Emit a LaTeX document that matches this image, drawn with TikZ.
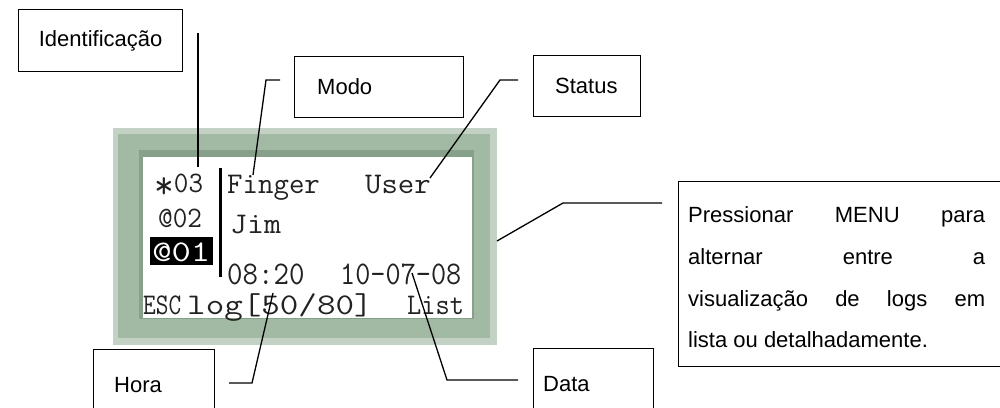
\documentclass[tikz,border=0pt]{standalone}
\usepackage{fontspec}
\setmainfont{Liberation Sans}
\definecolor{lcdedge}{HTML}{C4D2C5}
\definecolor{lcdgreen}{HTML}{A2B9A4}
\definecolor{lcddark}{HTML}{86A08A}
\definecolor{lcdtext}{HTML}{222222}
\newcommand{\lblfont}{\fontsize{22}{26}\selectfont}
\newcommand{\lcdf}{\ttfamily\fontsize{30}{30}\selectfont}
\newcommand{\lcdsmall}{\ttfamily\fontsize{27}{27}\selectfont}
\newcommand{\bigast}{\raisebox{-0.22em}[0pt][0pt]{\scalebox{1.35}{*}}}
\begin{document}
\begin{tikzpicture}[x=1pt,y=-1pt,
  labelbox/.style={draw=black,line width=1.2pt,fill=white,inner sep=0pt,anchor=north west},
  lbl/.style={font=\lblfont,inner sep=0pt},
  leader/.style={draw=black,line width=1.3pt},
  lcd/.style={font=\lcdf,inner sep=0pt,anchor=base west,text=lcdtext,transform shape}]
\useasboundingbox (0,0) rectangle (1000,407);
\clip (0,0) rectangle (1000,407);

% LCD frame
\fill[lcdedge] (113,128) rectangle (497,345);
\fill[lcdgreen] (118,134) rectangle (490,338);
\fill[lcddark] (139,150) rectangle (474,319);
\fill[white] (143,157) rectangle (472,318);

% LCD content
\node[lcd,font=\lcdsmall,xscale=1.05,yscale=1.1] (n03) at (154,192) {\bigast03};
\node[lcd] (finger) at (227,193) {Finger};
\node[lcd,xscale=1.06] (user) at (365,193) {User};
\node[lcd,font=\lcdsmall,xscale=1.05,yscale=1.1] (n02) at (158,227) {@02};
\node[lcd,xscale=1.1] (jim) at (230,233) {Jim};
\fill[black] (150,237) rectangle (213,265);
\node[lcd,xscale=1.25,text=white] (n01) at (152,261) {@01};
\fill[black] (218.5,168) rectangle (221.5,277);
\node[lcd,yscale=1.1] (hour) at (227,284) {08:20};
\node[lcd,xscale=0.98,yscale=1.1] (date) at (340,284) {10-07-08};
\node[lcd,xscale=0.82] (esc) at (143,314) {ESC};
\node[lcd,xscale=1.2] (log) at (187,314) {log[50/80]};
\node[lcd,xscale=0.92] (list) at (407,314) {List};

% label boxes
\node[labelbox,minimum width=164pt,minimum height=62pt] (ident) at (18,9) {};
\node[lbl] at (ident.center) {Identificação};
\node[labelbox,minimum width=169pt,minimum height=61pt] (modo) at (294,56) {};
\node[lbl,anchor=west] at (317,87) {Modo};
\node[labelbox,minimum width=107pt,minimum height=61pt] (status) at (533,55) {};
\node[lbl,anchor=west] at (555,86) {Status};
\node[labelbox,minimum width=330pt,minimum height=185pt] (press) at (678,181) {};
\node[lbl,anchor=base west] at (688,222) {\makebox[297pt][s]{Pressionar MENU para}};
\node[lbl,anchor=base west] at (688,264) {\makebox[297pt][s]{alternar entre a}};
\node[lbl,anchor=base west] at (688,306) {\makebox[297pt][s]{visualização de logs em}};
\node[lbl,anchor=base west] at (688,347) {lista ou detalhadamente.};
\node[labelbox,minimum width=121pt,minimum height=80pt] (hora) at (93,349) {};
\node[lbl,anchor=west] at (114,385) {Hora};
\node[labelbox,minimum width=120pt,minimum height=80pt] (data) at (533,348) {};
\node[lbl,anchor=west] at (543,384) {Data};

% leaders
\coordinate (idA) at (198,33);
\coordinate (idT) at (198,167);
\draw[leader] (idA) -- (idT);
\coordinate (moA) at (280,80);
\coordinate (moB) at (266,80);
\coordinate (moT) at (253,175);
\draw[leader] (moA) -- (moB) -- (moT);
\coordinate (stA) at (518,80);
\coordinate (stB) at (500,80);
\coordinate (stT) at (430,178);
\draw[leader] (stA) -- (stB) -- (stT);
\coordinate (prA) at (662,203);
\coordinate (prB) at (563,203);
\coordinate (prT) at (497,241);
\draw[leader] (prA) -- (prB) -- (prT);
\coordinate (hoA) at (229,383);
\coordinate (hoB) at (252,383);
\coordinate (hoT) at (273,293);
\draw[leader] (hoA) -- (hoB) -- (hoT);
\coordinate (daA) at (518,380);
\coordinate (daB) at (447,380);
\coordinate (daT) at (412,273);
\draw[leader] (daA) -- (daB) -- (daT);
\end{tikzpicture}
\end{document}
